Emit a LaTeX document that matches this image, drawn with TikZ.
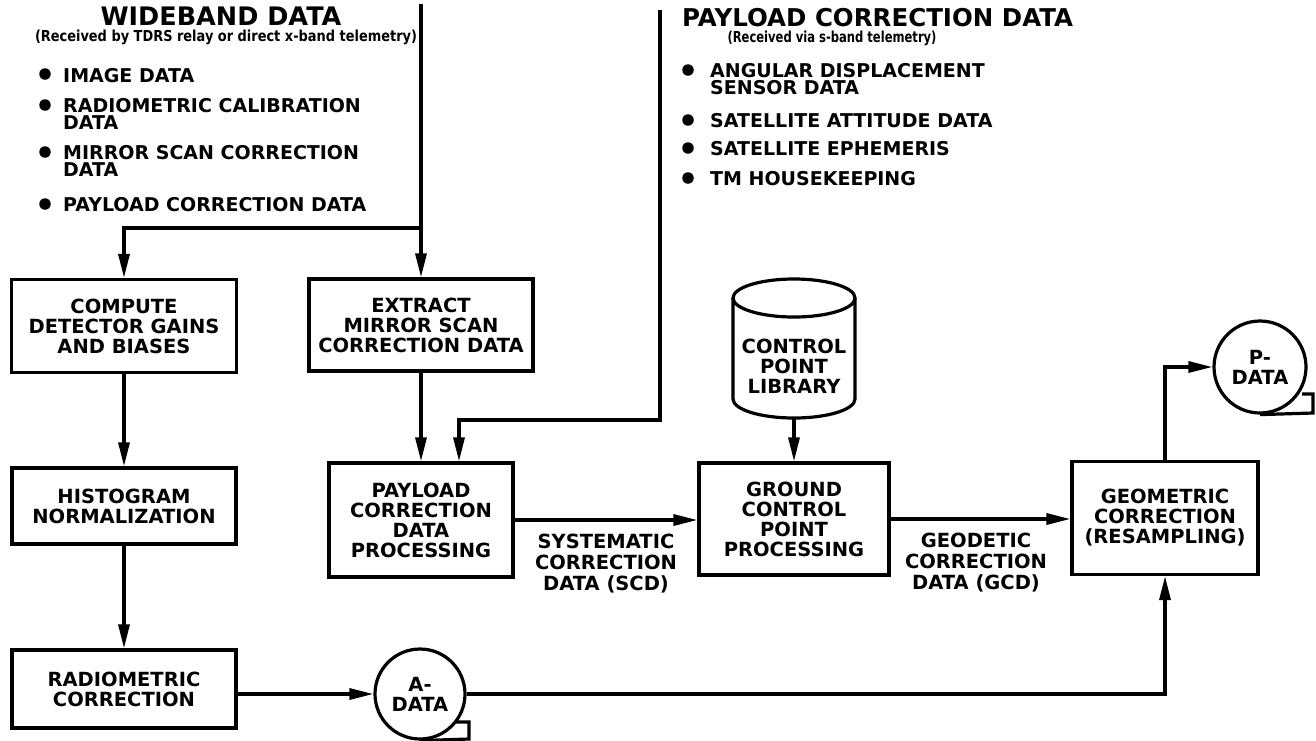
\documentclass[tikz,border=0pt]{standalone}
\usepackage{fontspec}
\usepackage{graphicx}
\setmainfont{DejaVu Sans}
\usetikzlibrary{arrows.meta}
\newcommand\boxfont{\fontsize{19.5}{20}\selectfont\bfseries}
\newcommand\lblfont{\fontsize{19.5}{21}\selectfont\bfseries}
\newcommand\bulfont{\fontsize{19}{17}\selectfont\bfseries}
\newcommand\titfont{\fontsize{25.5}{28}\selectfont\bfseries}
\newcommand\titfontb{\fontsize{24.5}{28}\selectfont\bfseries}
\begin{document}
\begin{tikzpicture}[x=1pt,y=1pt,yscale=-1,
  proc/.style={draw, line width=3.2pt, align=center, font=\boxfont, inner sep=0pt},
  tape/.style={draw, circle, line width=3.2pt, align=center, font=\boxfont, inner sep=0pt},
  lbl/.style={align=center, font=\lblfont, inner sep=0pt},
  plainline/.style={line width=3.2pt},
  conn/.style={line width=3.2pt, -{Triangle[length=24pt,width=11pt]}},
  bul/.style={font=\bulfont, align=left, anchor=north west, inner sep=0pt},
  bulletdot/.style={circle, fill, inner sep=0pt, minimum size=11.5pt},
  titl/.style={font=\titfont, inner sep=0pt}]
\path[use as bounding box, fill=white] (0,0) rectangle (1316,740);

% headings
\node[titl] (wbt) at (221,16) {WIDEBAND DATA};
\node[inner sep=0pt] (wbs) at (226,37) {\resizebox{382pt}{11.5pt}{\bfseries (Received by TDRS relay or direct x-band telemetry)}};
\node[titl, font=\titfontb, anchor=west] (pct) at (682,18) {PAYLOAD CORRECTION DATA};
\node[inner sep=0pt] (pcs) at (832,38) {\resizebox{209pt}{11.5pt}{\bfseries (Received via s-band telemetry)}};

% left bullets
\node[bulletdot] (lb1) at (45,74) {};
\node[bul] (lt1) at (63,68) {IMAGE DATA};
\node[bulletdot] (lb2) at (45,105) {};
\node[bul] (lt2) at (63,98) {RADIOMETRIC CALIBRATION\\DATA};
\node[bulletdot] (lb3) at (45,152) {};
\node[bul] (lt3) at (63,145) {MIRROR SCAN CORRECTION\\DATA};
\node[bulletdot] (lb4) at (45,204) {};
\node[bul] (lt4) at (63,197) {PAYLOAD CORRECTION DATA};

% right bullets
\node[bulletdot] (rb1) at (688,70) {};
\node[bul] (rt1) at (710,63) {ANGULAR DISPLACEMENT\\SENSOR DATA};
\node[bulletdot] (rb2) at (688,120) {};
\node[bul] (rt2) at (710,113) {SATELLITE ATTITUDE DATA};
\node[bulletdot] (rb3) at (688,148) {};
\node[bul] (rt3) at (710,141) {SATELLITE EPHEMERIS};
\node[bulletdot] (rb4) at (688,178) {};
\node[bul] (rt4) at (710,171) {TM HOUSEKEEPING};

% process boxes
\node[proc, minimum width=225pt, minimum height=93pt] (comp) at (124,326) {COMPUTE\\DETECTOR GAINS\\AND BIASES};
\node[proc, minimum width=224pt, minimum height=92pt] (extr) at (421,325) {EXTRACT\\MIRROR SCAN\\CORRECTION DATA};
\node[proc, minimum width=224pt, minimum height=76pt] (hist) at (124,506) {HISTOGRAM\\NORMALIZATION};
\node[proc, minimum width=224pt, minimum height=78pt] (radio) at (124,689) {RADIOMETRIC\\CORRECTION};
\node[proc, minimum width=184pt, minimum height=114pt] (pcdp) at (421,520) {PAYLOAD\\CORRECTION\\DATA\\PROCESSING};
\node[proc, minimum width=190pt, minimum height=112pt] (gcp) at (794,519) {GROUND\\CONTROL\\POINT\\PROCESSING};
\node[proc, minimum width=186pt, minimum height=113pt] (geom) at (1165,518) {GEOMETRIC\\CORRECTION\\(RESAMPLING)};

% tape symbols
\node[tape, minimum size=90pt] (adata) at (420,694) {A-\\DATA};
\draw[plainline] (adata.south) -- (469,739) -- (469,722) -- (456,722);
\node[tape, minimum size=92pt] (pdata) at (1260,367) {P-\\DATA};
\draw[plainline] (pdata.south) -- (1313,413) -- (1313,394) -- (1302,394);

% cylinder (control point library)
\draw[plainline] (794,298) ellipse [x radius=61, y radius=19];
\draw[plainline] (733,298) -- (733,399) arc[start angle=180, end angle=0, x radius=61, y radius=19] -- (855,298);
\node[lbl, font=\boxfont] (lib) at (794,366) {CONTROL\\POINT\\LIBRARY};
\coordinate (libbot) at (794,418);

% connector labels
\node[lbl] (scd) at (606,564) {SYSTEMATIC\\CORRECTION\\DATA (SCD)};
\node[lbl] (gcd) at (976,563) {GEODETIC\\CORRECTION\\DATA (GCD)};

% connectors
\coordinate (wbtop) at (421,4);
\coordinate (wbsplit) at (421,228);
\draw[plainline] (wbtop) -- (wbsplit);
\draw[conn] (wbsplit) -- (extr.north);
\draw[conn] (wbsplit) -| (comp.north);

\coordinate (pctop) at (660,10);
\coordinate (pcturn) at (660,420);
\coordinate (pcin) at (459,420);
\draw[conn] (pctop) -- (pcturn) -- (pcin) -- (pcin |- pcdp.north);

\draw[conn] (extr.south) -- (pcdp.north);
\draw[conn] (comp) -- (hist);
\draw[conn] (hist) -- (radio);
\draw[conn] (radio.east |- adata) -- (adata);
\draw[conn] (adata) -| (geom.south);
\draw[conn] (pcdp.east) -- (pcdp.east -| gcp.west);
\draw[conn] (libbot) -- (gcp.north);
\draw[conn] (gcp.east) -- (gcp.east -| geom.west);
\draw[conn] (geom.north) |- (pdata);
\end{tikzpicture}
\end{document}
